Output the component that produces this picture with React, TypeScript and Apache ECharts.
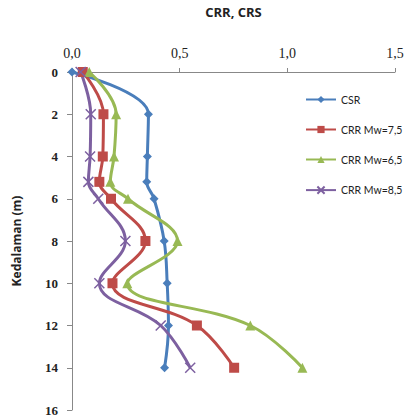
import React, { useEffect, useRef } from "react";
import * as echarts from "echarts";

const depths = [0, 2, 4, 5.2, 6, 8, 10, 12, 14];
const csr = [0.0, 0.355, 0.35, 0.347, 0.381, 0.428, 0.442, 0.448, 0.43];
const crr75 = [0.05, 0.146, 0.143, 0.127, 0.181, 0.341, 0.188, 0.58, 0.753];
const crr65 = [0.08, 0.205, 0.195, 0.178, 0.26, 0.49, 0.257, 0.828, 1.07];
const crr85 = [0.04, 0.087, 0.084, 0.076, 0.122, 0.248, 0.127, 0.412, 0.549];
const seriesNames = ["CSR", "CRR Mw=7,5", "CRR Mw=6,5", "CRR Mw=8,5"];
const xTicks = { min: 0, max: 1.5, interval: 0.5 };
const yTicks = { min: 0, max: 16, interval: 2 };

const colors = ["#4a7ebb", "#be4b48", "#98b954", "#7d60a0"];

export default function App() {
  const ref = useRef<HTMLDivElement>(null);
  useEffect(() => {
    if (!ref.current) return;
    const chart = echarts.init(ref.current, undefined, { renderer: "svg" });
    const pair = (vals: number[]) => vals.map((v, i) => [v, depths[i]]);
    const all = [csr, crr75, crr65, crr85];
    const symbols = ["diamond", "rect", "triangle", "path://M0,0L10,10M10,0L0,10"];
    const sizes = [9, 10, 10, 10];
    chart.setOption({
      animation: false,
      color: colors,
      grid: { left: 72, right: 13, top: 69, bottom: 8 },
      legend: {
        orient: "vertical",
        left: 300,
        top: 89,
        itemWidth: 30,
        itemHeight: 9,
        itemGap: 19,
        textStyle: { fontFamily: "Lato", fontSize: 10.5, color: "#222" },
        data: seriesNames,
      },
      xAxis: {
        type: "value",
        position: "top",
        min: xTicks.min,
        max: xTicks.max,
        interval: xTicks.interval,
        name: "CRR, CRS",
        nameLocation: "middle",
        nameGap: 54,
        nameTextStyle: { fontFamily: "Open Sans", fontWeight: "bold", fontSize: 13, color: "#222" },
        axisLine: { lineStyle: { color: "#888" } },
        axisTick: { show: true, length: 4, lineStyle: { color: "#888" } },
        splitLine: { show: false },
        axisLabel: {
          margin: 12,
          fontFamily: "Liberation Serif",
          fontSize: 14,
          color: "#222",
          formatter: (v: number) => v.toFixed(1).replace(".", ","),
        },
      },
      yAxis: {
        type: "value",
        inverse: true,
        min: yTicks.min,
        max: yTicks.max,
        interval: yTicks.interval,
        name: "Kedalaman (m)",
        nameLocation: "middle",
        nameGap: 50,
        nameTextStyle: { fontFamily: "Open Sans", fontWeight: "bold", fontSize: 12, color: "#222" },
        axisLine: { show: true, lineStyle: { color: "#888" } },
        axisTick: { show: true, length: 5, lineStyle: { color: "#888" } },
        splitLine: { show: false },
        axisLabel: {
          margin: 14,
          fontFamily: "Liberation Serif",
          fontWeight: "bold",
          fontSize: 13,
          color: "#222",
        },
      },
      series: all.map((vals, i) => ({
        name: seriesNames[i],
        type: "line",
        smooth: 0.4,
        data: pair(vals),
        symbol: symbols[i],
        symbolSize: sizes[i],
        lineStyle: { width: 3, color: colors[i] },
        itemStyle:
          i === 3
            ? { color: "none", borderColor: colors[i], borderWidth: 1.5 }
            : { color: colors[i] },
      })),
    });
    return () => chart.dispose();
  }, []);
  return (
    <div
      ref={ref}
      style={{ position: "absolute", left: 0, top: 0, width: 408, height: 418 }}
    />
  );
}
